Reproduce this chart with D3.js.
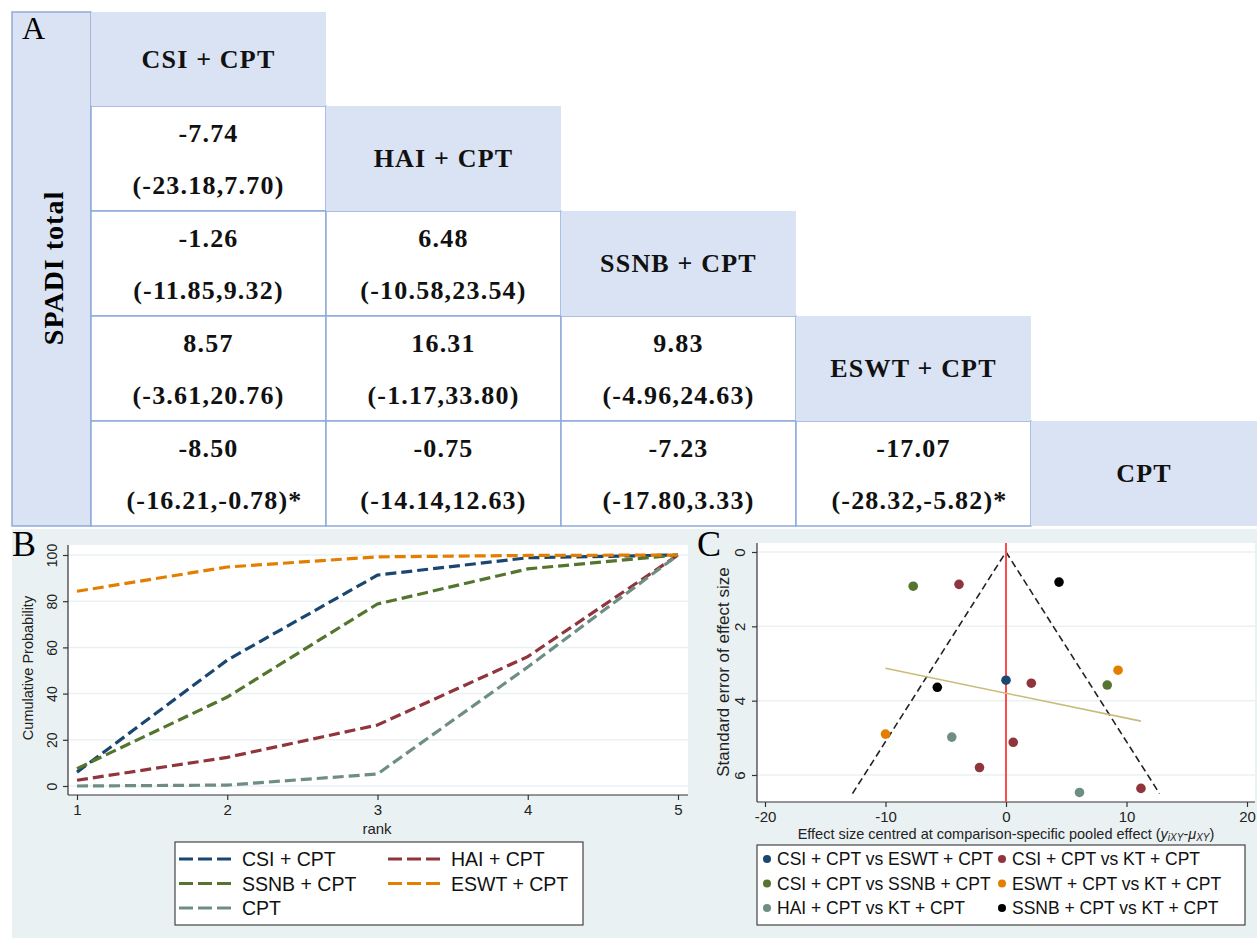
<!DOCTYPE html>
<html>
<head>
<meta charset="utf-8">
<script src="https://cdn.jsdelivr.net/npm/d3@7"></script>
<style>
  body { margin: 0; background: #fff; }
  svg { display: block; }
</style>
</head>
<body>
<div id="figure"></div>
<script>
    // ---- data ----
    var treatments = ["CSI + CPT", "HAI + CPT", "SSNB + CPT", "ESWT + CPT", "CPT"];

    // league table, lower triangle (row i, column j < i)
    var leagueEst = [
      [],
      ["-7.74"],
      ["-1.26", "6.48"],
      ["8.57", "16.31", "9.83"],
      ["-8.50", "-0.75", "-7.23", "-17.07"]
    ];
    var leagueCI = [
      [],
      ["(-23.18,7.70)"],
      ["(-11.85,9.32)", "(-10.58,23.54)"],
      ["(-3.61,20.76)", "(-1.17,33.80)", "(-4.96,24.63)"],
      ["(-16.21,-0.78)*", "(-14.14,12.63)", "(-17.80,3.33)", "(-28.32,-5.82)*"]
    ];

    // cumulative ranking probabilities (%), ranks 1..5
    var ranks = [1, 2, 3, 4, 5];
    var csiCum = [6, 54.5, 91.3, 98.8, 100];
    var haiCum = [2.5, 12.4, 26.4, 56, 100];
    var ssnbCum = [7.5, 38.5, 78.8, 94, 100];
    var eswtCum = [84.3, 94.8, 99.2, 99.8, 100];
    var cptCum = [0, 0.4, 5.2, 51.5, 100];
    var rankTicksY = [0, 20, 40, 60, 80, 100];

    // comparison-adjusted funnel plot points
    var comparisons = [
      "CSI + CPT vs ESWT + CPT", "CSI + CPT vs KT + CPT",
      "CSI + CPT vs SSNB + CPT", "ESWT + CPT vs KT + CPT",
      "HAI + CPT vs KT + CPT", "SSNB + CPT vs KT + CPT"
    ];
    var funnelEffect = [0, -3.9, 2.1, 0.6, -2.2, 11.2, -7.7, 8.4, -10.0, 9.3, -4.5, 6.1, -5.7, 4.4];
    var funnelSE = [3.45, 0.87, 3.53, 5.12, 5.8, 6.36, 0.92, 3.58, 4.9, 3.18, 4.98, 6.47, 3.64, 0.81];
    var funnelGroup = [0, 1, 1, 1, 1, 1, 2, 2, 3, 3, 4, 4, 5, 5];
    var funnelMaxSE = 6.5;
    var fitLineX = [-10.0, 11.2];
    var fitLineY = [3.13, 4.55];
    var funnelTicksX = [-20, -10, 0, 10, 20];
    var funnelTicksY = [0, 2, 4, 6];

    // stata s2color palette
    var rankColors = ["#1a476f", "#90353b", "#55752f", "#e37e00", "#6e8e84"];
    var compColors = ["#1a476f", "#90353b", "#55752f", "#e37e00", "#6e8e84", "#000000"];

    var W = 1257, H = 940;
    var svg = d3.select("#figure")
      .append("svg")
      .attr("width", W)
      .attr("height", H);

    // ================= Panel A : league table =================
    var headFill = "#dae3f3", cellLine = "#8eaadb";
    var serif = "'Liberation Serif', 'Times New Roman', serif";

    var colX = d3.scaleBand().domain(d3.range(5)).range([91, 1266]);
    var rowY = d3.scaleBand().domain(d3.range(5)).range([1, 526]);
    function rowTop(i) { return Math.max(12, rowY(i)); }
    function rowBottom(i) { return rowY(i) + rowY.bandwidth(); }

    var tableG = svg.append("g");

    // left label column
    tableG.append("rect")
      .attr("x", 12).attr("y", 12)
      .attr("width", 79).attr("height", rowBottom(4) - 12)
      .attr("fill", headFill)
      .attr("stroke", cellLine).attr("stroke-width", 1.5);

    tableG.append("text")
      .attr("x", 22).attr("y", 28)
      .attr("dominant-baseline", "central")
      .attr("font-family", serif)
      .attr("font-size", 32)
      .text("A");

    tableG.append("text")
      .attr("transform", "translate(53,268) rotate(-90)")
      .attr("text-anchor", "middle")
      .attr("dominant-baseline", "central")
      .attr("font-family", serif)
      .attr("font-weight", "bold")
      .attr("font-size", 28)
      .attr("letter-spacing", 1)
      .text("SPADI total");

    // value cells
    var cells = [];
    leagueEst.forEach(function (row, i) {
      row.forEach(function (est, j) {
        cells.push({ row: i, col: j, est: est, ci: leagueCI[i][j] });
      });
    });

    var cellG = tableG.selectAll("g.cell")
      .data(cells)
      .enter().append("g")
      .attr("class", "cell");

    cellG.append("rect")
      .attr("x", function (d) { return colX(d.col); })
      .attr("y", function (d) { return rowTop(d.row); })
      .attr("width", colX.bandwidth())
      .attr("height", function (d) { return rowBottom(d.row) - rowTop(d.row); })
      .attr("fill", "#fff")
      .attr("stroke", cellLine).attr("stroke-width", 1.5);

    cellG.append("text")
      .attr("x", function (d) { return colX(d.col) + colX.bandwidth() / 2; })
      .attr("y", function (d) { return (rowTop(d.row) + rowBottom(d.row)) / 2 - 25; })
      .text(function (d) { return d.est; });

    cellG.append("text")
      .attr("x", function (d) { return colX(d.col) + colX.bandwidth() / 2 + (d.ci.slice(-1) === "*" ? 6 : 0); })
      .attr("y", function (d) { return (rowTop(d.row) + rowBottom(d.row)) / 2 + 27; })
      .text(function (d) { return d.ci; });

    // diagonal header cells
    var headG = tableG.selectAll("g.head")
      .data(treatments)
      .enter().append("g")
      .attr("class", "head");

    headG.append("rect")
      .attr("x", function (d, i) { return colX(i); })
      .attr("y", function (d, i) { return rowTop(i); })
      .attr("width", colX.bandwidth())
      .attr("height", function (d, i) { return rowBottom(i) - rowTop(i); })
      .attr("fill", headFill);

    headG.append("text")
      .attr("x", function (d, i) { return Math.min(colX(i) + colX.bandwidth() / 2, (colX(i) + W) / 2); })
      .attr("y", function (d, i) { return (rowTop(i) + rowBottom(i)) / 2; })
      .text(function (d) { return d; });

    tableG.selectAll("g.cell text, g.head text")
      .attr("text-anchor", "middle")
      .attr("dominant-baseline", "central")
      .attr("font-family", serif)
      .attr("font-weight", "bold")
      .attr("font-size", 26)
      .attr("letter-spacing", 1.2)
      .attr("fill", "#111");

    // ================= bottom background =================
    var sans = "'Liberation Sans', Arial, sans-serif";
    svg.append("rect")
      .attr("x", 12).attr("y", 529)
      .attr("width", W - 12).attr("height", 409)
      .attr("fill", "#eaf1f3");

    // ================= Panel B : cumulative ranking =================
    var bBox = { left: 68, right: 688, top: 545, bottom: 795 };
    var xB = d3.scaleLinear().domain([1, 5]).range([77, 678]);
    var yB = d3.scaleLinear().domain([0, 100]).range([786, 555]);

    var gB = svg.append("g");
    gB.append("rect")
      .attr("x", bBox.left).attr("y", bBox.top)
      .attr("width", bBox.right - bBox.left).attr("height", bBox.bottom - bBox.top)
      .attr("fill", "#fff");

    gB.selectAll("line.grid")
      .data(rankTicksY)
      .enter().append("line")
      .attr("x1", bBox.left).attr("x2", bBox.right)
      .attr("y1", function (d) { return yB(d); })
      .attr("y2", function (d) { return yB(d); })
      .attr("stroke", "#eaf1f3").attr("stroke-width", 1.5);

    var yAxisB = gB.append("g")
      .attr("transform", "translate(" + bBox.left + ",0)")
      .call(d3.axisLeft(yB).tickValues(rankTicksY).tickFormat(d3.format("d")).tickSize(5));
    yAxisB.select(".domain").attr("d", "M0," + bBox.top + "V" + bBox.bottom);
    yAxisB.selectAll(".tick text")
      .attr("transform", "translate(-16,0) rotate(-90)")
      .attr("text-anchor", "middle")
      .attr("x", 0).attr("dy", "0")
      .attr("dominant-baseline", "central")
      .attr("font-size", 14);

    var xAxisB = gB.append("g")
      .attr("transform", "translate(0," + bBox.bottom + ")")
      .call(d3.axisBottom(xB).tickValues(ranks).tickFormat(d3.format("d")).tickSize(5).tickPadding(4));
    xAxisB.select(".domain").attr("d", "M" + bBox.left + ",0H" + bBox.right);
    xAxisB.selectAll(".tick text").attr("font-size", 15);

    gB.selectAll(".domain, .tick line").attr("stroke", "#333").attr("stroke-width", 1.2);
    gB.selectAll(".tick text").attr("font-family", sans).attr("fill", "#222");

    gB.append("text")
      .attr("transform", "translate(28,668) rotate(-90)")
      .attr("text-anchor", "middle")
      .attr("dominant-baseline", "central")
      .attr("font-family", sans).attr("font-size", 14.5).attr("fill", "#222")
      .text("Cumulative Probability");

    gB.append("text")
      .attr("x", 377).attr("y", 828)
      .attr("text-anchor", "middle")
      .attr("dominant-baseline", "central")
      .attr("font-family", sans).attr("font-size", 15).attr("fill", "#222")
      .text("rank");

    var rankSeries = [csiCum, haiCum, ssnbCum, eswtCum, cptCum];
    var lineB = d3.line()
      .x(function (d, i) { return xB(ranks[i]); })
      .y(function (d) { return yB(d); });

    gB.selectAll("path.rank")
      .data(rankSeries)
      .enter().append("path")
      .attr("class", "rank")
      .attr("d", lineB)
      .attr("fill", "none")
      .attr("stroke", function (d, i) { return rankColors[i]; })
      .attr("stroke-width", 3.2)
      .attr("stroke-dasharray", "11,5");

    gB.append("text")
      .attr("x", 12).attr("y", 544)
      .attr("dominant-baseline", "central")
      .attr("font-family", serif).attr("font-size", 36)
      .text("B");

    // legend B
    var legB = gB.append("g");
    legB.append("rect")
      .attr("x", 175).attr("y", 842)
      .attr("width", 408).attr("height", 83)
      .attr("fill", "#fff").attr("stroke", "#444").attr("stroke-width", 1.2);

    var legBItems = legB.selectAll("g.item")
      .data(treatments)
      .enter().append("g")
      .attr("transform", function (d, i) {
        return "translate(" + (i % 2 === 0 ? 179 : 388) + "," + (859 + Math.floor(i / 2) * 24.5) + ")";
      });
    legBItems.append("line")
      .attr("x1", 0).attr("x2", 54)
      .attr("stroke", function (d, i) { return rankColors[i]; })
      .attr("stroke-width", 3.2)
      .attr("stroke-dasharray", "14,5");
    legBItems.append("text")
      .attr("x", 63)
      .attr("dominant-baseline", "central")
      .attr("font-family", sans).attr("font-size", 19.5).attr("fill", "#111")
      .text(function (d) { return d; });

    // ================= Panel C : funnel plot =================
    var cBox = { left: 757, right: 1255, top: 543, bottom: 802 };
    var xC = d3.scaleLinear().domain([-20, 20]).range([765, 1247]);
    var yC = d3.scaleLinear().domain([0, 6]).range([552, 775]);

    var gC = svg.append("g");
    gC.append("rect")
      .attr("x", cBox.left).attr("y", cBox.top)
      .attr("width", cBox.right - cBox.left).attr("height", cBox.bottom - cBox.top)
      .attr("fill", "#fff");

    gC.selectAll("line.grid")
      .data(funnelTicksY)
      .enter().append("line")
      .attr("x1", cBox.left).attr("x2", cBox.right)
      .attr("y1", function (d) { return yC(d); })
      .attr("y2", function (d) { return yC(d); })
      .attr("stroke", "#eaf1f3").attr("stroke-width", 1.5);

    var yAxisC = gC.append("g")
      .attr("transform", "translate(" + cBox.left + ",0)")
      .call(d3.axisLeft(yC).tickValues(funnelTicksY).tickFormat(d3.format("d")).tickSize(5));
    yAxisC.select(".domain").attr("d", "M0," + cBox.top + "V" + cBox.bottom);
    yAxisC.selectAll(".tick text")
      .attr("transform", "translate(-18,0) rotate(-90)")
      .attr("text-anchor", "middle")
      .attr("x", 0).attr("dy", "0")
      .attr("dominant-baseline", "central")
      .attr("font-size", 15);

    var xAxisC = gC.append("g")
      .attr("transform", "translate(0," + cBox.bottom + ")")
      .call(d3.axisBottom(xC).tickValues(funnelTicksX).tickSize(5).tickPadding(4)
        .tickFormat(function (d) { return d < 0 ? "-" + Math.abs(d) : d; }));
    xAxisC.select(".domain").attr("d", "M" + cBox.left + ",0H" + cBox.right);
    xAxisC.selectAll(".tick text").attr("font-size", 15);

    gC.selectAll(".domain, .tick line").attr("stroke", "#333").attr("stroke-width", 1.2);
    gC.selectAll(".tick text").attr("font-family", sans).attr("fill", "#222");

    gC.append("text")
      .attr("transform", "translate(723,672) rotate(-90)")
      .attr("text-anchor", "middle")
      .attr("dominant-baseline", "central")
      .attr("font-family", sans).attr("font-size", 17).attr("fill", "#222")
      .text("Standard error of effect size");

    var xTitle = gC.append("text")
      .attr("x", 1006).attr("y", 834)
      .attr("text-anchor", "middle")
      .attr("dominant-baseline", "central")
      .attr("font-family", sans).attr("font-size", 14.5).attr("fill", "#222");
    xTitle.append("tspan").text("Effect size centred at comparison-specific pooled effect (");
    xTitle.append("tspan").attr("font-style", "italic").text("y");
    xTitle.append("tspan").attr("font-style", "italic").attr("font-size", 10).attr("dy", 3).text("iXY");
    xTitle.append("tspan").attr("dy", -3).text("-");
    xTitle.append("tspan").attr("font-style", "italic").text("\u03bc");
    xTitle.append("tspan").attr("font-style", "italic").attr("font-size", 10).attr("dy", 3).text("XY");
    xTitle.append("tspan").attr("dy", -3).text(")");

    // funnel (95% pseudo CI)
    var funnelPts = [[-1.96 * funnelMaxSE, funnelMaxSE], [0, 0], [1.96 * funnelMaxSE, funnelMaxSE]];
    gC.append("path")
      .attr("d", d3.line().x(function (d) { return xC(d[0]); }).y(function (d) { return yC(d[1]); })(funnelPts))
      .attr("fill", "none")
      .attr("stroke", "#222").attr("stroke-width", 1.6)
      .attr("stroke-dasharray", "7,4");

    // zero line
    gC.append("line")
      .attr("x1", xC(0)).attr("x2", xC(0))
      .attr("y1", cBox.top).attr("y2", cBox.bottom)
      .attr("stroke", "#ff4b4b").attr("stroke-width", 2);

    // fitted line
    gC.append("line")
      .attr("x1", xC(fitLineX[0])).attr("y1", yC(fitLineY[0]))
      .attr("x2", xC(fitLineX[1])).attr("y2", yC(fitLineY[1]))
      .attr("stroke", "#c9bb78").attr("stroke-width", 1.6);

    gC.selectAll("circle.pt")
      .data(funnelEffect)
      .enter().append("circle")
      .attr("class", "pt")
      .attr("cx", function (d) { return xC(d); })
      .attr("cy", function (d, i) { return yC(funnelSE[i]); })
      .attr("r", 4.8)
      .attr("fill", function (d, i) { return compColors[funnelGroup[i]]; });

    gC.append("text")
      .attr("x", 697).attr("y", 544)
      .attr("dominant-baseline", "central")
      .attr("font-family", serif).attr("font-size", 36)
      .text("C");

    // legend C
    var legC = gC.append("g");
    legC.append("rect")
      .attr("x", 757).attr("y", 845)
      .attr("width", 488).attr("height", 80)
      .attr("fill", "#fff").attr("stroke", "#444").attr("stroke-width", 1.2);

    var legCItems = legC.selectAll("g.item")
      .data(comparisons)
      .enter().append("g")
      .attr("transform", function (d, i) {
        return "translate(" + (i % 2 === 0 ? 767 : 1002) + "," + (859 + Math.floor(i / 2) * 24.5) + ")";
      });
    legCItems.append("circle")
      .attr("r", 4)
      .attr("fill", function (d, i) { return compColors[i]; });
    legCItems.append("text")
      .attr("x", 10)
      .attr("dominant-baseline", "central")
      .attr("font-family", sans).attr("font-size", 17.5).attr("fill", "#111")
      .text(function (d) { return d; });
</script>
</body>
</html>
